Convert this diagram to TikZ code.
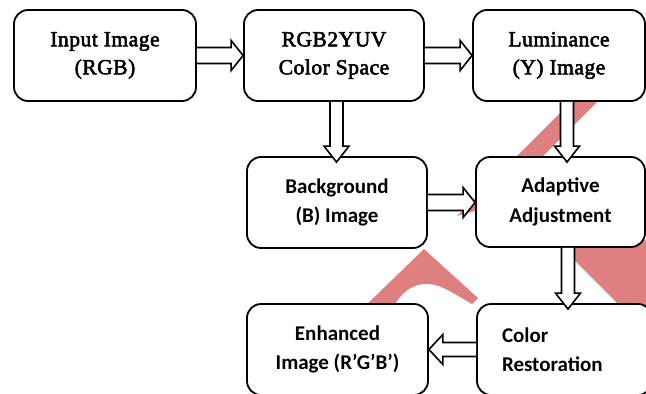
\documentclass[tikz,border=0pt]{standalone}
\usepackage{fontspec}
\newfontfamily\timeslike{Liberation Serif}[FakeBold=2.5, LetterSpace=2.5]
\newfontfamily\calibrilike{Carlito}
\usetikzlibrary{calc}
\definecolor{wm}{RGB}{222,128,128}
\tikzset{
  box/.style={draw, line width=1.8pt, rounded corners=14pt, fill=white,
    minimum height=91pt, inner sep=0pt, align=center},
  serifbox/.style={box, font=\fontsize{21.5}{28}\selectfont\timeslike},
  sansbox/.style={box, font=\fontsize{21}{29.5}\selectfont\calibrilike\bfseries},
  barrow/.style={draw, line width=1.6pt, fill=white, line join=miter},
  wmark/.style={fill=wm, draw=none}
}
\newcommand\rarr[2]{\draw[barrow] let \p1=(#1), \p2=(#2) in
  (\x1,\y1+8pt) -- (\x2-12pt,\y1+8pt) -- (\x2-12pt,\y1+15pt) -- (\x2,\y1)
  -- (\x2-12pt,\y1-15pt) -- (\x2-12pt,\y1-8pt) -- (\x1,\y1-8pt);}
\newcommand\larr[2]{\draw[barrow] let \p1=(#1), \p2=(#2) in
  (\x1,\y1+7pt) -- (\x2+14pt,\y1+7pt) -- (\x2+14pt,\y1+15pt) -- (\x2,\y1)
  -- (\x2+14pt,\y1-15pt) -- (\x2+14pt,\y1-7pt) -- (\x1,\y1-7pt);}
\newcommand\darr[2]{\draw[barrow] let \p1=(#1), \p2=(#2) in
  (\x1-6.5pt,\y1) -- (\x1-6.5pt,\y2+10pt) -- (\x1-12.5pt,\y2+10pt) -- (\x1,\y2-6pt)
  -- (\x1+12.5pt,\y2+10pt) -- (\x1+6.5pt,\y2+10pt) -- (\x1+6.5pt,\y1);}
\begin{document}
\begin{tikzpicture}[x=1pt,y=-1pt]
\clip (0,0) rectangle (646,394);
\fill[white] (0,0) rectangle (646,394);
% watermark
\fill[wmark] (613,60) -- (639,60) -- (493,206) -- (457,216) -- cycle;
\fill[wmark] (424,249) -- (478,298) -- (472,304)
  .. controls (448,290) and (438,283) .. (424,284)
  .. controls (410,285) and (400,295) .. (394,306)
  -- (394,312) -- (359,312) -- cycle;
\fill[wmark] (554,240) -- (626,312) -- (660,312) -- (660,240) -- cycle;
% boxes
\node[serifbox, minimum width=182pt] (b1) at (105,55.5) {Input Image\\(RGB)};
\node[serifbox, minimum width=180pt] (b2) at (334,55.5) {RGB2YUV\\Color Space};
\node[serifbox, minimum width=172pt] (b3) at (559,55.5) {Luminance\\(Y) Image};
\node[sansbox, minimum width=180pt] (b4) at (337,202.5) {Background\\(B) Image};
\node[sansbox, minimum width=169pt, minimum height=90pt] (b5) at (560.5,202) {Adaptive\\Adjustment};
\node[sansbox, minimum width=181pt] (b6) at (337.5,349.5) {Enhanced\\Image (R’G’B’)};
\node[sansbox, align=left, text width=125pt, inner xsep=25pt] (b7) at (564.5,349.5) {Color\\Restoration};
% arrows
\rarr{b1.east}{b2.west}
\rarr{b2.east}{b3.west}
\darr{$(b2.south)+(2.5,0)$}{b4.north}
\darr{$(b3.south)+(8,0)$}{b5.north}
\rarr{b4.east}{b5.west}
\darr{$(b5.south)+(7.5,0)$}{b7.north}
\larr{b7.west}{b6.east}
\end{tikzpicture}
\end{document}
